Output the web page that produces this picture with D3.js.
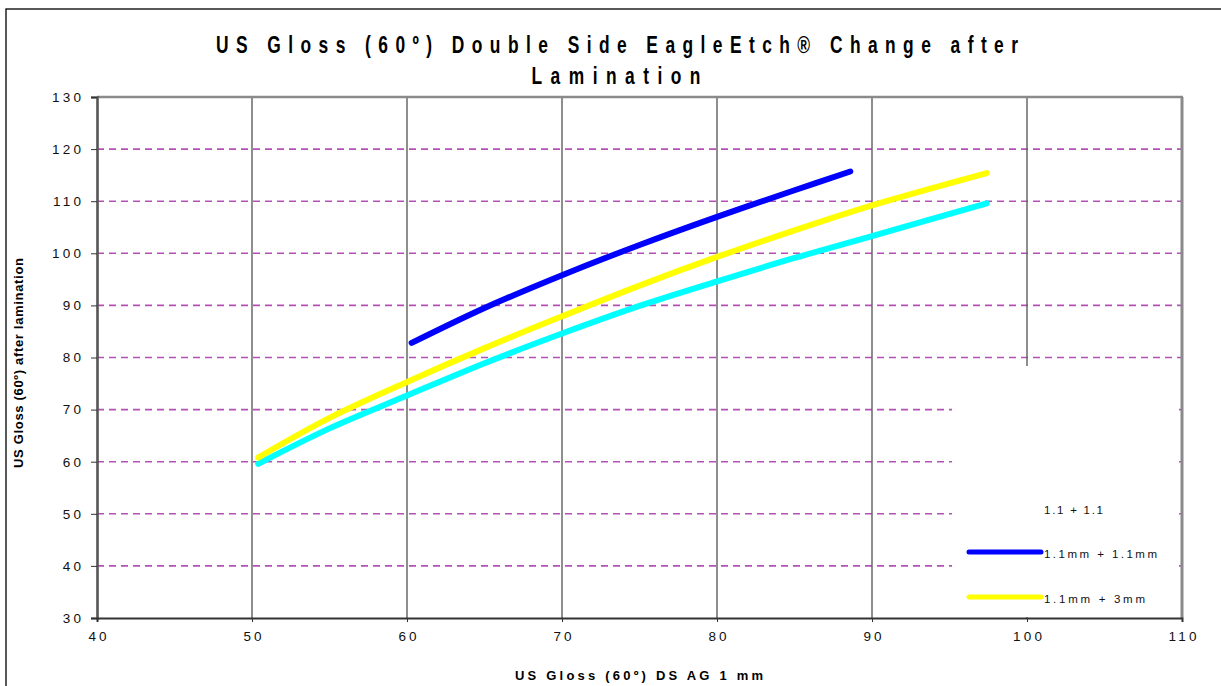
<!DOCTYPE html>
<html>
<head>
<meta charset="utf-8">
<script src="https://cdn.jsdelivr.net/npm/d3@7"></script>
<style>
  html, body { margin: 0; padding: 0; background: #fff; }
  svg { display: block; font-family: "Liberation Sans", Arial, sans-serif; }
</style>
</head>
<body>
<script>
// ---- data ----
const titleLines = ["US Gloss (60º) Double Side EagleEtch® Change after", "Lamination"];
const xTitle = "US Gloss (60º) DS AG 1 mm";
const yTitle = "US Gloss (60º) after lamination";
const xTicks = [40, 50, 60, 70, 80, 90, 100, 110];
const yTicks = [30, 40, 50, 60, 70, 80, 90, 100, 110, 120, 130];

const blueX = [60.3, 65, 70, 75, 80, 85, 88.6];
const blueY = [82.8, 89.5, 95.8, 101.6, 107.0, 112.1, 115.7];
const yellowX = [50.4, 55, 60, 65, 70, 75, 80, 85, 90, 97.4];
const yellowY = [60.8, 68.4, 75.3, 81.8, 87.9, 93.8, 99.3, 104.4, 109.2, 115.4];
const cyanX = [50.4, 55, 60, 65, 70, 75, 80, 85, 90, 97.4];
const cyanY = [59.6, 66.4, 72.7, 78.9, 84.6, 89.9, 94.6, 99.1, 103.3, 109.6];

const legendLabels = ["1.1 + 1.1", "1.1mm + 1.1mm", "1.1mm + 3mm"];
const legendColors = [null, "#0000FF", "#FFFF00"];

const series = [
  { name: "cyan", xs: cyanX, ys: cyanY, color: "#00FFFF" },
  { name: "yellow", xs: yellowX, ys: yellowY, color: "#FFFF00" },
  { name: "blue", xs: blueX, ys: blueY, color: "#0000FF" }
];

// ---- layout ----
const W = 1221, H = 686;
const L = 97, R = 1182, T = 97, B = 618;

const svg = d3.select("body").append("svg").attr("width", W).attr("height", H);

// outer frame
svg.append("rect").attr("x", 6).attr("y", 9).attr("width", 1400).attr("height", 800)
  .attr("fill", "none").attr("stroke", "#000").attr("stroke-width", 1.3);

const x = d3.scaleLinear().domain([40, 110]).range([L, R]);
const y = d3.scaleLinear().domain([30, 130]).range([B, T]);

// horizontal gridlines
svg.append("g").selectAll("line").data(yTicks.filter(v => v > 30 && v < 130)).join("line")
  .attr("x1", L).attr("x2", R).attr("y1", d => y(d)).attr("y2", d => y(d))
  .attr("stroke", "#b451b4").attr("stroke-width", 1.6)
  .attr("stroke-dasharray", "7,5");

// vertical gridlines
svg.append("g").selectAll("line").data(xTicks.filter(v => v > 40 && v < 110)).join("line")
  .attr("x1", d => x(d)).attr("x2", d => x(d)).attr("y1", T).attr("y2", B)
  .attr("stroke", "#5e5e5e").attr("stroke-width", 1.4);

// series
const line = d3.line().curve(d3.curveCatmullRom.alpha(0.5));
series.forEach(s => {
  const pts = s.xs.map((v, i) => [x(v), y(s.ys[i])]);
  svg.append("path").attr("d", line(pts)).attr("fill", "none")
    .attr("stroke", s.color).attr("stroke-width", 6).attr("stroke-linecap", "round");
});

// legend box (white, covers grid)
svg.append("rect").attr("x", 952).attr("y", 366).attr("width", 227).attr("height", B - 366 - 1)
  .attr("fill", "#fff");

// plot border
svg.append("line").attr("x1", L).attr("x2", R + 1).attr("y1", T).attr("y2", T)
  .attr("stroke", "#8a8a8a").attr("stroke-width", 2.5);
svg.append("line").attr("x1", R).attr("x2", R).attr("y1", T).attr("y2", B)
  .attr("stroke", "#8a8a8a").attr("stroke-width", 3);

// axes
const yAxisG = svg.append("g").attr("transform", `translate(${L},0)`)
  .call(d3.axisLeft(y).tickValues(yTicks).tickSize(6).tickPadding(10).tickFormat(d3.format("d")));
yAxisG.select(".domain").attr("stroke", "#555").attr("stroke-width", 2.6);
yAxisG.selectAll(".tick line").attr("stroke", "#333");
yAxisG.selectAll(".tick text").attr("font-size", 13.5).attr("fill", "#111")
  .style("letter-spacing", "3.2px").attr("dx", "3.2px").attr("font-family", "Liberation Sans, Arial, sans-serif");

const xAxisG = svg.append("g").attr("transform", `translate(0,${B})`)
  .call(d3.axisBottom(x).tickValues(xTicks).tickSize(4).tickPadding(9).tickFormat(d3.format("d")));
xAxisG.select(".domain").attr("stroke", "#333").attr("stroke-width", 2);
xAxisG.selectAll(".tick line").attr("stroke", "#333");
xAxisG.selectAll(".tick text").attr("font-size", 13.5).attr("fill", "#111")
  .style("letter-spacing", "3.2px").attr("dx", "1.6px").attr("font-family", "Liberation Sans, Arial, sans-serif");

// title (narrow, heavy glyphs with wide spacing)
const sx = 0.74;
const t1 = svg.append("g").attr("transform", `translate(617,53) scale(${sx},1)`);
t1.append("text").attr("x", 0).attr("y", 0).attr("text-anchor", "middle")
  .attr("font-size", 23.5).attr("font-weight", "bold").attr("fill", "#000")
  .attr("textLength", 802 / sx).attr("lengthAdjust", "spacing").text(titleLines[0]);
const t2 = svg.append("g").attr("transform", `translate(616,84) scale(${sx},1)`);
t2.append("text").attr("x", 0).attr("y", 0).attr("text-anchor", "middle")
  .attr("font-size", 23.5).attr("font-weight", "bold").attr("fill", "#000")
  .attr("textLength", 169 / sx).attr("lengthAdjust", "spacing").text(titleLines[1]);

// axis titles
svg.append("text").attr("x", 639).attr("y", 680).attr("text-anchor", "middle")
  .attr("font-size", 13).attr("font-weight", "bold").attr("fill", "#000")
  .attr("textLength", 248).attr("lengthAdjust", "spacing").text(xTitle);
svg.append("text").attr("transform", "translate(23,363) rotate(-90)").attr("text-anchor", "middle")
  .attr("font-size", 13).attr("font-weight", "bold").attr("fill", "#000")
  .attr("textLength", 210).attr("lengthAdjust", "spacing").text(yTitle);

// legend
const legY = [514, 558, 603];
const legLen = [59, 113, 101];
legendLabels.forEach((lab, i) => {
  if (legendColors[i]) {
    svg.append("line").attr("x1", 969).attr("x2", 1041).attr("y1", legY[i] - 6).attr("y2", legY[i] - 6)
      .attr("stroke", legendColors[i]).attr("stroke-width", 5).attr("stroke-linecap", "round");
  }
  svg.append("text").attr("x", 1044).attr("y", legY[i]).attr("font-size", 11.5).attr("fill", "#111")
    .attr("textLength", legLen[i]).attr("lengthAdjust", "spacing").text(lab);
});
</script>
</body>
</html>
